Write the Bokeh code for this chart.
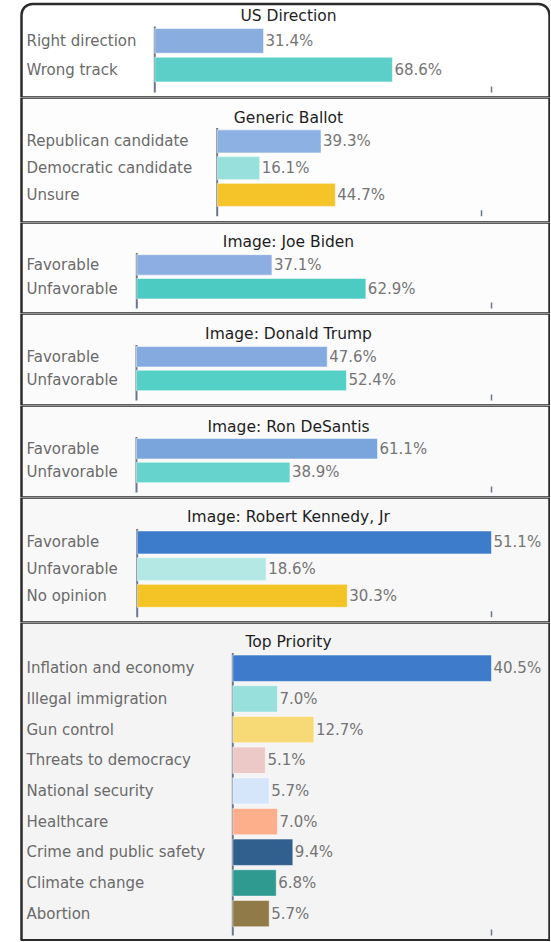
from bokeh.plotting import figure
from bokeh.models import ColumnDataSource, Range1d, LabelSet, Label, BoxAnnotation
from bokeh.layouts import column
from bokeh.core.properties import value
from bokeh.embed import file_html
from bokeh.resources import INLINE

# ---------------- data ----------------
us_direction_labels = ["Right direction", "Wrong track"]
us_direction_values = [31.4, 68.6]

ballot_labels = ["Republican candidate", "Democratic candidate", "Unsure"]
ballot_values = [39.3, 16.1, 44.7]

biden_labels = ["Favorable", "Unfavorable"]
biden_values = [37.1, 62.9]

trump_labels = ["Favorable", "Unfavorable"]
trump_values = [47.6, 52.4]

desantis_labels = ["Favorable", "Unfavorable"]
desantis_values = [61.1, 38.9]

kennedy_labels = ["Favorable", "Unfavorable", "No opinion"]
kennedy_values = [51.1, 18.6, 30.3]

priority_labels = ["Inflation and economy", "Illegal immigration", "Gun control",
                   "Threats to democracy", "National security", "Healthcare",
                   "Crime and public safety", "Climate change", "Abortion"]
priority_values = [40.5, 7.0, 12.7, 5.1, 5.7, 7.0, 9.4, 6.8, 5.7]

panel_titles = ["US Direction", "Generic Ballot", "Image: Joe Biden", "Image: Donald Trump",
                "Image: Ron DeSantis", "Image: Robert Kennedy, Jr", "Top Priority"]

# ---------------- styles ----------------
us_colors = ["#8aade0", "#5cd0c8"]
ballot_colors = ["#8db1e2", "#98e0dc", "#f5c428"]
biden_colors = ["#8caee0", "#4ccbc2"]
trump_colors = ["#85aae0", "#54d0c6"]
desantis_colors = ["#79a5dc", "#66d4cc"]
kennedy_colors = ["#3d7ccb", "#b4e8e4", "#f4c426"]
priority_colors = ["#3e7bcb", "#98e0db", "#f7d976", "#ecc9c6", "#d6e6fa",
                   "#fdae8a", "#315f8e", "#2f9a90", "#8f7a48"]
panel_bgs = ["#ffffff", "#fdfdfd", "#fcfcfc", "#fbfbfb", "#fafafa", "#f8f8f8", "#f4f4f4"]

# layout (page pixels)
layout_cfg = [
    dict(top=0, bottom=97, title_y=15, axis_x=154.3, ftop=26, fbot=92, band=28.7, right=491, xend=97.2),
    dict(top=97, bottom=222, title_y=117.5, axis_x=216.7, ftop=127.5, fbot=215.7, band=26.75, right=481, xend=100.0),
    dict(top=222, bottom=313, title_y=241.5, axis_x=136.3, ftop=252.5, fbot=308, band=23.8, right=491, xend=97.4),
    dict(top=313, bottom=405, title_y=333, axis_x=136, ftop=344.4, fbot=400, band=23.7, right=491, xend=88.6),
    dict(top=405, bottom=497, title_y=426, axis_x=136, ftop=436.4, fbot=492, band=23.7, right=491, xend=90.0),
    dict(top=497, bottom=622, title_y=516, axis_x=136.7, ftop=528.6, fbot=616.7, band=26.7, right=491, xend=51.1),
    dict(top=622, bottom=941, title_y=641, axis_x=232.3, ftop=652.4, fbot=935, band=30.67, right=491, xend=40.5),
]

panels = [
    (us_direction_labels, us_direction_values, us_colors),
    (ballot_labels, ballot_values, ballot_colors),
    (biden_labels, biden_values, biden_colors),
    (trump_labels, trump_values, trump_colors),
    (desantis_labels, desantis_values, desantis_colors),
    (kennedy_labels, kennedy_values, kennedy_colors),
    (priority_labels, priority_values, priority_colors),
]

FONT = "DejaVu Sans"
W = 550
AXIS_COLOR = "#6b788c"
BORDER_COLOR = "#2b2b2b"
LABEL_X = 26
TITLE_X = 288
BORDER_LEFT = 21
BORDER_RIGHT = 549

figs = []
for i, ((cats, vals, colors), cfg) in enumerate(zip(panels, layout_cfg)):
    top = cfg["top"]
    H = cfg["bottom"] - top
    ft = cfg["ftop"] - top
    fb = cfg["fbot"] - top
    b = cfg["band"]                           # band height in px
    axis_c = cfg["axis_x"]
    k = (cfg["right"] - axis_c) / cfg["xend"]  # px per percent

    x_range = Range1d(-axis_c / k, (W - axis_c) / k)
    y_range = Range1d(-0.5 + (H - ft) / b, -0.5 - ft / b)   # inverted: first row at top

    p = figure(width=W, height=H, x_range=x_range, y_range=y_range,
               output_backend="svg", toolbar_location=None,
               x_axis_location=None, y_axis_location=None, min_border=0)
    p.border_fill_color = "white"
    p.background_fill_color = "white"
    p.outline_line_color = None
    p.xgrid.visible = False
    p.ygrid.visible = False

    # panel frame
    box = BoxAnnotation(left=BORDER_LEFT, right=BORDER_RIGHT,
                        top=(3.5 if i == 0 else 0),
                        bottom=H,
                        left_units="canvas", right_units="canvas",
                        top_units="canvas", bottom_units="canvas",
                        fill_color=panel_bgs[i], fill_alpha=1.0,
                        line_color=BORDER_COLOR, line_alpha=1.0, line_width=2.5,
                        level="underlay")
    if i == 0:
        box.border_radius = dict(top_left=11, top_right=11, bottom_right=0, bottom_left=0)
    if i == len(panels) - 1:
        box.bottom = H - 1.25
    p.add_layout(box)

    # axis line and end tick
    y_axis_bottom = -0.5 + (fb - ft) / b
    p.segment(x0=[0], y0=[-0.5], x1=[0], y1=[y_axis_bottom],
              line_color=AXIS_COLOR, line_width=2)
    p.segment(x0=[cfg["xend"]], y0=[y_axis_bottom], x1=[cfg["xend"]], y1=[y_axis_bottom - 6 / b],
              line_color=AXIS_COLOR, line_width=1.5)

    src = ColumnDataSource(dict(
        y=list(range(len(cats))),
        value=vals,
        label=cats,
        vtext=[f"{v:.1f}%" for v in vals],
        color=colors,
    ))
    p.hbar(y="y", left=0, right="value", height=0.86, source=src,
           fill_color="color", line_color="white", line_alpha=0.5, line_width=1)

    p.add_layout(LabelSet(x=0, y="y", text="label", source=src,
                          x_offset=LABEL_X - axis_c, text_align="left",
                          text_baseline="middle", text_font=value(FONT),
                          text_font_size="15px", text_color="#6a6a6a"))
    p.add_layout(LabelSet(x="value", y="y", text="vtext", source=src,
                          x_offset=2, text_align="left",
                          text_baseline="middle", text_font=value(FONT),
                          text_font_size="15px", text_color="#757575"))
    p.add_layout(Label(x=TITLE_X, y=cfg["title_y"] - top, x_units="canvas", y_units="canvas",
                       text=panel_titles[i], text_align="center", text_baseline="middle",
                       text_font=FONT, text_font_size="15.5px", text_color="#1e1e1e"))
    figs.append(p)

layout = column(*figs, spacing=0)
open("out.html", "w").write(file_html(layout, INLINE))
